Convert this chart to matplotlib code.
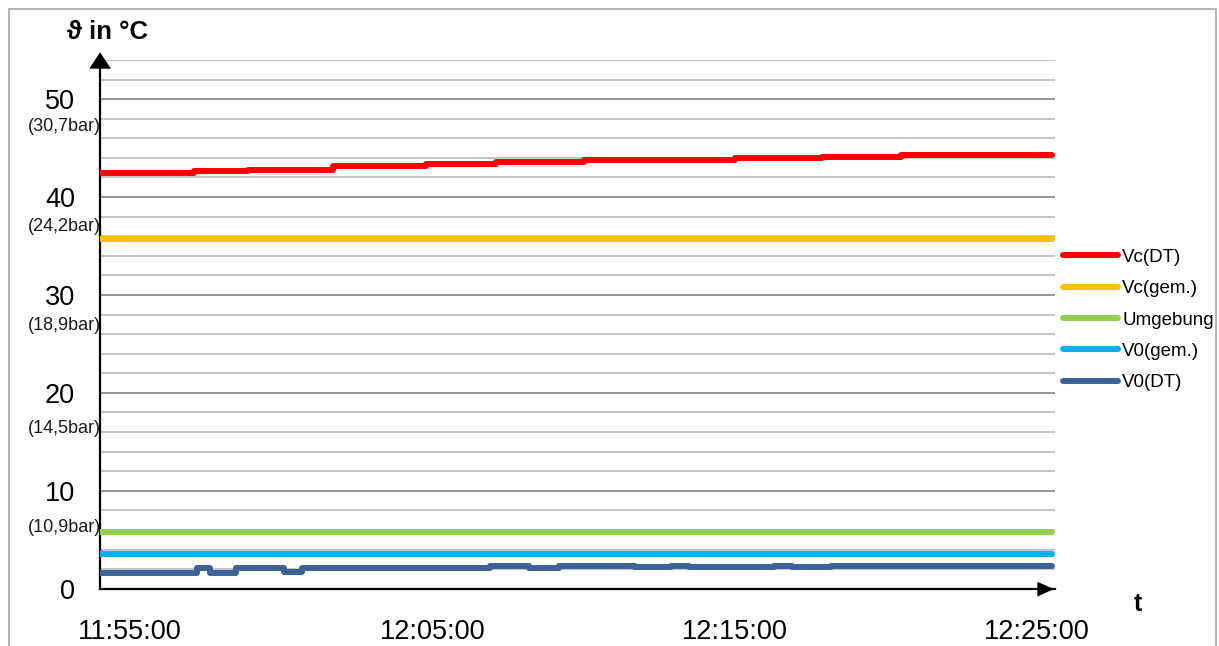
import numpy as np
import matplotlib
matplotlib.use("Agg")
import matplotlib.pyplot as plt
from matplotlib.patches import Rectangle
from matplotlib.transforms import ScaledTranslation

plt.rcParams['font.family'] = ['Liberation Sans', 'DejaVu Sans']

# === Data (x = minutes after 11:54:00) ===
t_vc_dt = [0, 3.1, 4.9, 7.7, 10.8, 13.1, 16.0, 21.0, 23.9, 26.5, 28.0, 31.5]
vc_dt = [42.45, 42.65, 42.8, 43.15, 43.4, 43.6, 43.8, 44.0, 44.05, 44.25, 44.3, 44.3]

t_const = [0, 31.5]
vc_gem = [35.7, 35.7]
umgebung = [5.75, 5.75]
v0_gem = [3.5, 3.5]

t_v0_dt = [0, 3.2, 3.65, 4.5, 6.1, 6.7, 12.9, 14.2, 15.2, 17.7, 18.9, 19.5, 22.3, 22.9, 24.2, 31.5]
v0_dt = [1.57, 2.1, 1.57, 2.1, 1.75, 2.1, 2.35, 2.15, 2.3, 2.2, 2.35, 2.25, 2.3, 2.2, 2.35, 2.35]

x_ticks = [1, 11, 21, 31]
x_labels = ["11:55:00", "12:05:00", "12:15:00", "12:25:00"]
y_ticks = [0, 10, 20, 30, 40, 50]
bar_labels = ["(10,9bar)", "(14,5bar)", "(18,9bar)", "(24,2bar)", "(30,7bar)"]
bar_label_y = [6.3, 16.4, 26.9, 37.0, 47.2]

series = [
    ("Vc(DT)", t_vc_dt, vc_dt, "#FF0000", True),
    ("Vc(gem.)", t_const, vc_gem, "#FFC000", False),
    ("Umgebung", t_const, umgebung, "#92D050", False),
    ("V0(gem.)", t_const, v0_gem, "#00B0F0", False),
    ("V0(DT)", t_v0_dt, v0_dt, "#3B6397", True),
]

# === Figure ===
W, H = 1219, 646
fig = plt.figure(figsize=(W / 100, H / 100), dpi=100)
ax = fig.add_axes([100 / W, (H - 588.7) / H, 955 / W, (588.7 - 60) / H])
ax.set_xlim(0, 31.6)
ax.set_ylim(0, 54.0)

# outer frame
fig.patches.append(Rectangle((9 / W, -0.1), (1216 - 9) / W, 1.1 - 9 / H,
                             transform=fig.transFigure, fill=False,
                             edgecolor="#a6a6a6", lw=1.2))

# gridlines every 2, darker at 10s
for v in range(2, 55, 2):
    ax.axhline(v, color="#8c8c8c" if v % 10 == 0 else "#bfbfbf", lw=1.3, zorder=0)

lines = []
for name, tx, ty, col, step in series:
    ln, = ax.plot(tx, ty, color=col, lw=4.3, solid_capstyle="round",
                  drawstyle="steps-post" if step else "default", label=name, zorder=3)
    lines.append(ln)

# axes look
for s in ["top", "right"]:
    ax.spines[s].set_visible(False)
for s in ["left", "bottom"]:
    ax.spines[s].set_linewidth(1.6)
    ax.spines[s].set_color("black")
ax.tick_params(length=0)
ax.set_xticks(x_ticks)
ax.set_xticklabels(x_labels, fontsize=19.5)
ax.tick_params(axis="x", pad=22)
ax.set_yticks(y_ticks)
ax.set_yticklabels([str(v) for v in y_ticks], fontsize=19.5)
ax.tick_params(axis="y", pad=18)

for lab, yv in zip(bar_labels, bar_label_y):
    ax.text(0, yv, lab, transform=ax.get_yaxis_transform() + ScaledTranslation(1 / 100, 0, fig.dpi_scale_trans),
            ha="right", va="center", fontsize=13, color="#1a1a1a")

# arrow heads
ax.plot(0, 1, marker=[(0, 0.75), (-1, -0.75), (1, -0.75)], ms=14.4, color="black",
        transform=ax.transAxes, clip_on=False, zorder=5)
ax.plot(1, 0, marker=[(1, 0), (-1, 0.9), (-1, -0.9)], ms=10.8, color="black",
        transform=ax.transAxes + ScaledTranslation(-10.5 / 100, 0, fig.dpi_scale_trans),
        clip_on=False, zorder=5)

# axis titles
fig.text(67 / W, 1 - 32 / H, "ϑ in °C", fontsize=18.5, fontweight="bold", ha="left", va="center")
fig.text(1138 / W, 1 - 604 / H, "t", fontsize=18, fontweight="bold", ha="center", va="center")

leg = fig.legend(handles=lines, loc="center left", bbox_to_anchor=(1063 / W, 1 - 320 / H),
                 frameon=False, fontsize=13.5, handlelength=2.95, handletextpad=0.2,
                 labelspacing=0.76, borderpad=0, borderaxespad=0)

fig.savefig("out.png", dpi=100)
